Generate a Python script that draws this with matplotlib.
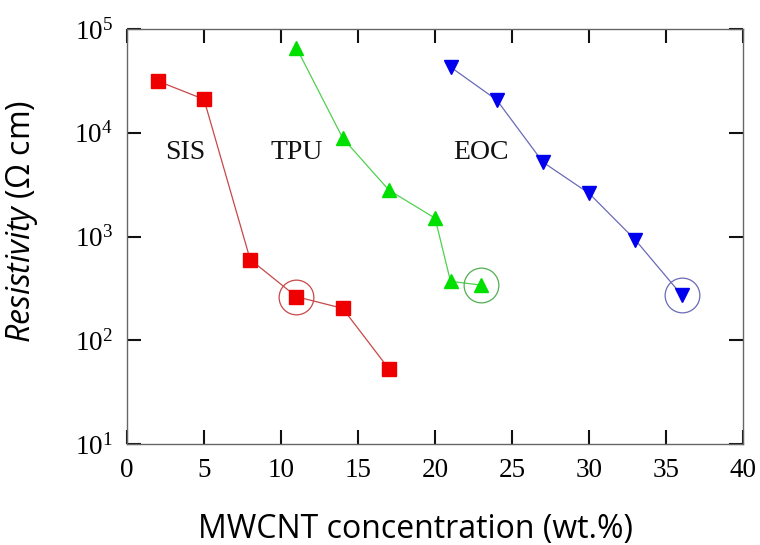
import numpy as np
import matplotlib
matplotlib.use("Agg")
import matplotlib.pyplot as plt

plt.rcParams['mathtext.fontset'] = 'custom'
plt.rcParams['mathtext.rm'] = 'Liberation Serif'
plt.rcParams['mathtext.it'] = 'Open Sans:italic'

# data
sis_x = [2, 5, 8, 11, 14, 17]
sis_y = [3.15e4, 2.1e4, 600, 263, 203, 53]
tpu_x = [11, 14, 17, 20, 21, 23]
tpu_y = [6.6e4, 8.9e3, 2.8e3, 1.5e3, 370, 340]
eoc_x = [21, 24, 27, 30, 33, 36]
eoc_y = [4.3e4, 2.07e4, 5.2e3, 2.6e3, 925, 273]

# threshold points marked with circles
circ_x = [11, 23, 36]
circ_y = [263, 340, 273]
circ_c = ['#c84848', '#50b050', '#6a6ab8']

labels = ['SIS', 'TPU', 'EOC']
label_x = [3.8, 11.0, 23.0]
label_y = [6.4e3, 6.4e3, 6.4e3]

xticks = [0, 5, 10, 15, 20, 25, 30, 35, 40]
yticks = [1e1, 1e2, 1e3, 1e4, 1e5]

fig = plt.figure(figsize=(7.6, 5.45), dpi=100)
ax = fig.add_axes([0.167, 0.1853, 0.811, 0.7615])

ax.plot(sis_x, sis_y, '-', color='#c84848', lw=0.9, marker='s', ms=9.5,
        mfc='#ee0000', mec='#ee0000')
ax.plot(tpu_x, tpu_y, '-', color='#50d050', lw=0.9, marker='^', ms=10.5,
        mfc='#00e000', mec='#00e000')
ax.plot(eoc_x, eoc_y, '-', color='#6a6ab8', lw=0.9, marker='v', ms=10.5,
        mfc='#0000ee', mec='#0000ee')

for x, y, c in zip(circ_x, circ_y, circ_c):
    ax.plot(x, y, 'o', ms=25, mfc='none', mec=c, mew=0.9)

for t, x, y in zip(labels, label_x, label_y):
    ax.text(x, y, t, ha='center', va='center', fontsize=20,
            family='Liberation Serif', color='#111111')

ax.set_yscale('log')
ax.set_xlim(0, 40)
ax.set_ylim(1e1, 1e5)
ax.set_xticks(xticks)
ax.set_xticklabels([str(v) for v in xticks])
ax.set_yticks(yticks)
ax.set_yticklabels([r'$\mathregular{10^{%d}}$' % int(np.log10(v)) for v in yticks])
ax.minorticks_off()
ax.tick_params(direction='in', length=10, width=1.5, top=True, right=True,
               labelsize=19.5, pad=10, color='#111111')
for lab in ax.get_xticklabels() + ax.get_yticklabels():
    lab.set_family('Liberation Serif')
for s in ax.spines.values():
    s.set_color('#666666')
    s.set_linewidth(1.0)

ax.set_xlabel('MWCNT concentration (wt.%)', fontsize=23, family='Open Sans',
              va='baseline')
ax.xaxis.set_label_coords(0.4675, -0.2265)
ax.set_ylabel(r'$\mathit{Resistivity}$ (Ω cm)', fontsize=23, family='Open Sans')
ax.yaxis.set_label_coords(-0.141, 0.535)

plt.savefig('out.png', dpi=100)
